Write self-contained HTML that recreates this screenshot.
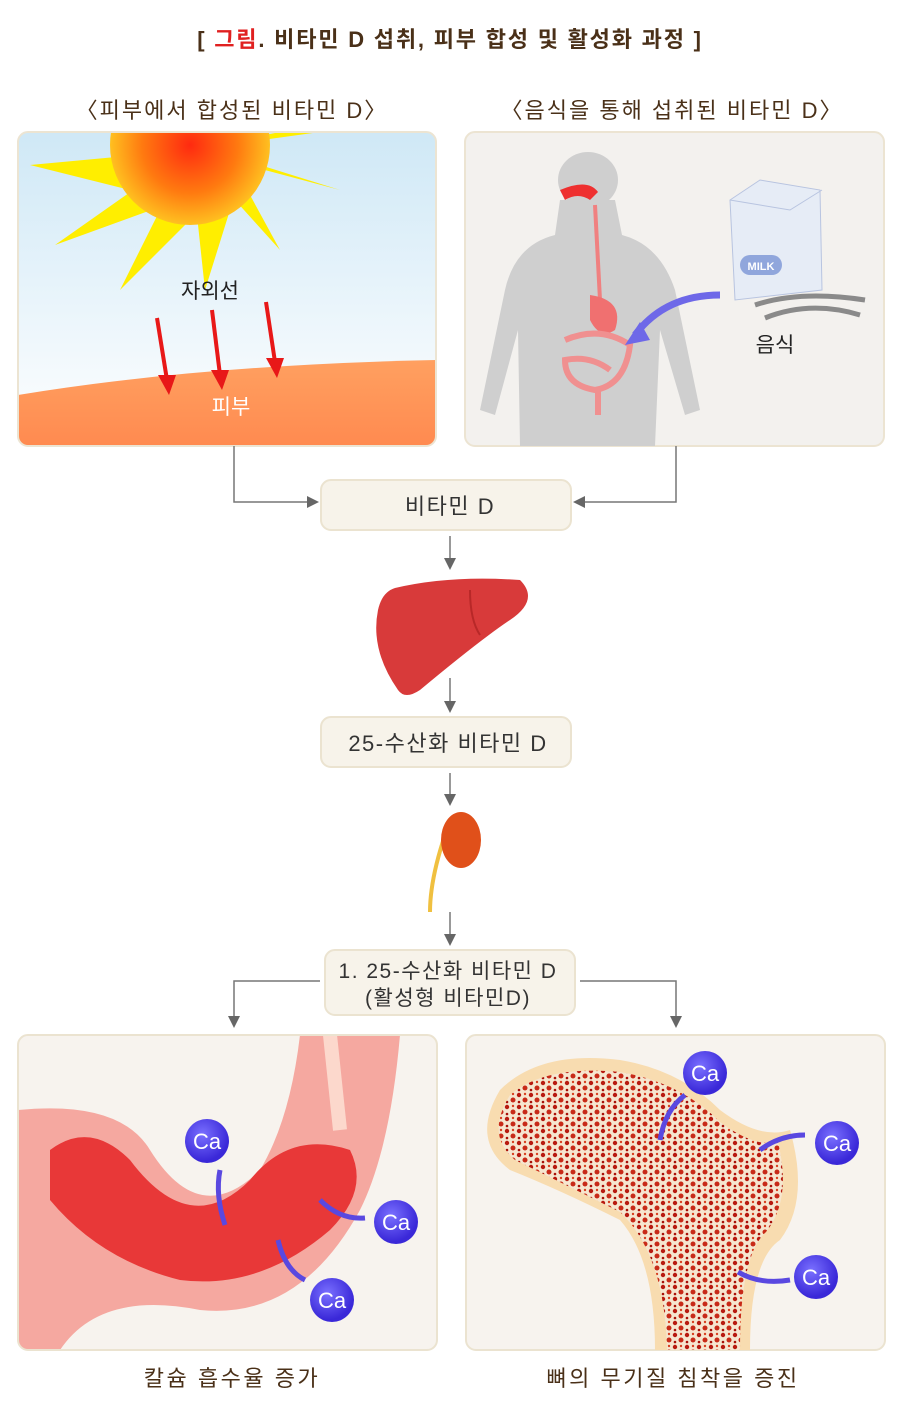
<!DOCTYPE html>
<html><head><meta charset="utf-8"><style>
body{margin:0;background:#fff;}
svg text{font-family:"Liberation Sans","Noto Sans CJK KR",sans-serif;}
</style></head><body>
<svg width="900" height="1411" viewBox="0 0 900 1411" xmlns="http://www.w3.org/2000/svg">
<defs>
<radialGradient id="sun" cx="0.5" cy="0.5" r="0.5"><stop offset="0" stop-color="#ff2a10"/><stop offset="0.6" stop-color="#ff7a10"/><stop offset="1" stop-color="#ffc020"/></radialGradient>
<linearGradient id="sky" x1="0" y1="0" x2="0" y2="1"><stop offset="0" stop-color="#cfe8f6"/><stop offset="1" stop-color="#ffffff"/></linearGradient>
<linearGradient id="skin" x1="0" y1="0" x2="0" y2="1"><stop offset="0" stop-color="#ffa060"/><stop offset="1" stop-color="#ff8a50"/></linearGradient>
<radialGradient id="ca" cx="0.4" cy="0.35" r="0.6"><stop offset="0" stop-color="#7a70ff"/><stop offset="1" stop-color="#3a28d8"/></radialGradient>
<pattern id="bone" width="12" height="12" patternUnits="userSpaceOnUse"><rect width="12" height="12" fill="#f6e6d0"/><circle cx="3" cy="3" r="2.2" fill="#b81a10"/><circle cx="9" cy="8" r="2.5" fill="#c82a18"/><circle cx="9" cy="2" r="1.2" fill="#d84020"/><circle cx="3" cy="10" r="1.3" fill="#a81008"/></pattern>
<marker id="ar" markerWidth="8" markerHeight="8" refX="6" refY="4" orient="auto"><path d="M0,0 L8,4 L0,8 z" fill="#666"/></marker>
</defs>
<text x="450" y="47" font-size="22" font-weight="bold" letter-spacing="1.8" fill="#4a3018" text-anchor="middle">[ <tspan fill="#e02020">그림</tspan>. 비타민 D 섭취, 피부 합성 및 활성화 과정 ]</text>
<text x="232" y="118" font-size="22" letter-spacing="2" fill="#4a3018" text-anchor="middle">〈피부에서 합성된 비타민 D〉</text>
<text x="672" y="118" font-size="22" letter-spacing="2" fill="#4a3018" text-anchor="middle">〈음식을 통해 섭취된 비타민 D〉</text>
<!-- left panel -->
<clipPath id="c1"><rect x="18" y="132" width="418" height="314" rx="10"/></clipPath>
<g clip-path="url(#c1)">
<rect x="18" y="132" width="418" height="314" fill="url(#sky)"/>
<g fill="#ffee00">
<polygon points="190,150 30,165 150,195"/><polygon points="190,150 55,245 165,205"/><polygon points="190,150 120,290 195,215"/><polygon points="190,150 205,290 230,210"/><polygon points="190,150 280,250 250,195"/><polygon points="190,150 340,190 260,165"/><polygon points="190,150 320,132 280,132"/>
</g>
<circle cx="190" cy="145" r="80" fill="url(#sun)"/>
<path d="M18,395 Q200,365 436,360 L436,446 L18,446 z" fill="url(#skin)"/>
</g>
<rect x="18" y="132" width="418" height="314" rx="10" fill="none" stroke="#ece4d2" stroke-width="2"/>
<text x="210" y="298" font-size="21" fill="#222" text-anchor="middle">자외선</text>
<g stroke="#e81818" stroke-width="4" fill="#e81818">
<line x1="157" y1="318" x2="167" y2="380"/><line x1="212" y1="310" x2="220" y2="375"/><line x1="266" y1="302" x2="275" y2="362"/>
</g>
<g fill="#e81818"><polygon points="158,375 176,375 169,395"/><polygon points="211,370 229,370 222,390"/><polygon points="266,358 284,358 277,378"/></g>
<text x="231" y="414" font-size="21" fill="#fff" text-anchor="middle">피부</text>
<!-- right panel -->
<rect x="465" y="132" width="419" height="314" rx="10" fill="#f3f1ee" stroke="#ece4d2" stroke-width="2"/>
<g fill="#cfcfcf">
<ellipse cx="588" cy="180" rx="30" ry="28"/>
<path d="M560,200 L615,200 L622,235 Q660,245 675,290 L700,410 L685,415 L660,330 L655,446 L520,446 L518,330 L495,415 L480,410 L505,290 Q515,245 555,235 z"/>
</g>
<path d="M560,190 Q588,178 598,192 L590,200 Q578,192 565,200 z" fill="#ee3030"/>
<path d="M595,205 L600,300" stroke="#f08080" stroke-width="4" fill="none"/>
<path d="M590,295 Q625,300 615,330 Q600,340 590,320 z" fill="#f07070"/>
<g fill="none" stroke="#f09090" stroke-width="6"><path d="M565,340 Q600,325 630,345 Q625,385 595,390 Q565,385 565,360 Q590,355 610,370"/><path d="M598,390 L598,415"/></g>
<path d="M730,200 L760,180 L820,190 L822,290 L735,300 z" fill="#e6ecf6" stroke="#b8c4e0"/>
<path d="M730,200 L790,210 L822,190" fill="none" stroke="#b8c4e0"/>
<rect x="740" y="255" width="42" height="20" rx="10" fill="#90a6dc"/><text x="761" y="270" font-size="11" fill="#fff" text-anchor="middle" font-weight="bold">MILK</text>
<g stroke="#8a8a8a" stroke-width="5" fill="none"><path d="M755,305 Q800,290 865,300"/><path d="M765,318 Q810,300 860,315"/></g>
<path d="M720,295 Q665,295 635,335" stroke="#6e68e8" stroke-width="7" fill="none"/><polygon points="625,345 640,322 650,340" fill="#6e68e8"/>
<text x="775" y="352" font-size="21" fill="#222" text-anchor="middle">음식</text>
<!-- connectors -->
<g stroke="#777" stroke-width="1.5" fill="none">
<polyline points="234,446 234,502 316,502" marker-end="url(#ar)"/>
<polyline points="676,446 676,502 576,502" marker-end="url(#ar)"/>
<line x1="450" y1="536" x2="450" y2="567" marker-end="url(#ar)"/>
<line x1="450" y1="678" x2="450" y2="710" marker-end="url(#ar)"/>
<line x1="450" y1="773" x2="450" y2="803" marker-end="url(#ar)"/>
<line x1="450" y1="912" x2="450" y2="943" marker-end="url(#ar)"/>
<polyline points="320,981 234,981 234,1025" marker-end="url(#ar)"/>
<polyline points="580,981 676,981 676,1025" marker-end="url(#ar)"/>
</g>
<rect x="321" y="480" width="250" height="50" rx="10" fill="#f7f3ea" stroke="#ebe3d0" stroke-width="2"/>
<text x="450" y="514" font-size="22" letter-spacing="1.5" fill="#333" text-anchor="middle">비타민 D</text>
<path d="M395,588 Q450,575 520,580 Q540,600 510,620 Q480,640 420,690 Q405,700 398,690 Q370,650 378,610 Q382,592 395,588 z" fill="#d83a3a"/>
<path d="M470,590 Q470,620 480,635" stroke="#b82828" stroke-width="2" fill="none"/>
<rect x="321" y="717" width="250" height="50" rx="10" fill="#f7f3ea" stroke="#ebe3d0" stroke-width="2"/>
<text x="448" y="751" font-size="22" letter-spacing="1.5" fill="#333" text-anchor="middle">25-수산화 비타민 D</text>
<path d="M445,835 Q430,880 430,912" stroke="#f0c040" stroke-width="4" fill="none"/>
<ellipse cx="461" cy="840" rx="20" ry="28" fill="#e0501a"/>
<rect x="325" y="950" width="250" height="65" rx="10" fill="#f7f3ea" stroke="#ebe3d0" stroke-width="2"/>
<text x="448" y="978" font-size="21" letter-spacing="1.5" fill="#333" text-anchor="middle">1. 25-수산화 비타민 D</text>
<text x="448" y="1005" font-size="21" letter-spacing="1.5" fill="#333" text-anchor="middle">(활성형 비타민D)</text>
<!-- bottom left -->
<clipPath id="c2"><rect x="18" y="1035" width="419" height="315" rx="10"/></clipPath>
<rect x="18" y="1035" width="419" height="315" rx="10" fill="#f7f3ee"/>
<g clip-path="url(#c2)">
<path d="M18,1110 Q120,1100 150,1150 Q200,1230 260,1170 Q290,1120 300,1035 L400,1035 Q390,1150 360,1210 Q300,1320 200,1310 Q100,1290 60,1350 L18,1350 z" fill="#f5a8a0"/>
<path d="M50,1150 Q90,1120 130,1160 Q190,1240 250,1180 Q290,1130 350,1150 Q370,1190 330,1230 Q260,1290 180,1280 Q100,1260 50,1200 z" fill="#e83838"/>
<path d="M330,1035 L340,1130" stroke="#fcd8cc" stroke-width="14" fill="none"/>
</g>
<rect x="18" y="1035" width="419" height="315" rx="10" fill="none" stroke="#ebe3d0" stroke-width="2"/>
<g stroke="#5a48e0" stroke-width="5" fill="none"><path d="M225,1225 Q215,1195 220,1170"/><path d="M320,1200 Q340,1220 365,1218"/><path d="M278,1240 Q285,1270 305,1280"/></g>
<!-- bottom right -->
<rect x="466" y="1035" width="419" height="315" rx="10" fill="#f7f3ee" stroke="#ebe3d0" stroke-width="2"/>
<path d="M500,1090 Q540,1050 620,1060 Q680,1070 720,1110 Q760,1140 790,1130 Q810,1200 780,1240 Q750,1260 750,1350 L655,1350 Q655,1260 620,1220 Q560,1190 510,1170 Q470,1140 500,1090 z" fill="#f8dcb0"/>
<path d="M510,1095 Q545,1065 620,1072 Q680,1082 720,1122 Q755,1148 778,1142 Q792,1200 766,1232 Q740,1255 740,1350 L667,1350 Q665,1255 620,1212 Q560,1182 515,1160 Q485,1135 510,1095 z" fill="url(#bone)"/>
<g stroke="#5a48e0" stroke-width="5" fill="none"><path d="M685,1095 Q665,1110 660,1140"/><path d="M805,1135 Q780,1135 760,1150"/><path d="M790,1280 Q760,1285 738,1272"/></g>
<g font-size="22" fill="#fff" text-anchor="middle">
<circle cx="207" cy="1141" r="22" fill="url(#ca)"/><text x="207" y="1149">Ca</text>
<circle cx="396" cy="1222" r="22" fill="url(#ca)"/><text x="396" y="1230">Ca</text>
<circle cx="332" cy="1300" r="22" fill="url(#ca)"/><text x="332" y="1308">Ca</text>
<circle cx="705" cy="1073" r="22" fill="url(#ca)"/><text x="705" y="1081">Ca</text>
<circle cx="837" cy="1143" r="22" fill="url(#ca)"/><text x="837" y="1151">Ca</text>
<circle cx="816" cy="1277" r="22" fill="url(#ca)"/><text x="816" y="1285">Ca</text>
</g>
<text x="232" y="1386" font-size="22" letter-spacing="2.5" fill="#4a3018" text-anchor="middle">칼슘 흡수율 증가</text>
<text x="673" y="1386" font-size="22" letter-spacing="2.5" fill="#4a3018" text-anchor="middle">뼈의 무기질 침착을 증진</text>
</svg>
</body></html>
